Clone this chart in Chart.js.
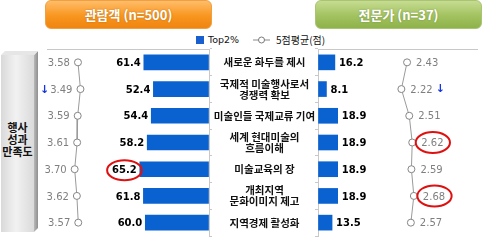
<!DOCTYPE html>
<html><head><meta charset="utf-8">
<script src="https://cdn.jsdelivr.net/npm/chart.js@4"></script>
<style>
html,body{margin:0;padding:0;background:#fff;}
#wrap{position:relative;width:500px;height:241px;overflow:hidden;font-family:"Noto Sans CJK KR","Noto Sans",sans-serif;}
.hdr{position:absolute;top:0;height:27px;border-radius:6px;color:#fff;font-weight:bold;font-size:13px;text-align:center;line-height:27px;text-shadow:0 0 2px rgba(0,0,0,0.25);}
#hL{left:45px;width:165px;background:linear-gradient(#ffbd6a,#f8961f 55%,#ef8510);border:1px solid #f0a040;}
#hR{left:315px;width:165px;background:linear-gradient(#c6dc92,#a2c25f 55%,#8eb24a);border:1px solid #a9c573;}
.leg{position:absolute;font-size:10px;color:#111;line-height:12px;}
canvas{position:absolute;}
#box{position:absolute;left:0;top:0;}
#boxtxt{position:absolute;left:1px;width:33px;top:121px;text-align:center;font-weight:bold;font-size:11px;line-height:12px;color:#111;}
</style></head>
<body>
<div id="wrap">
  <div class="hdr" id="hL">관람객 (n=500)</div>
  <div class="hdr" id="hR">전문가 (n=37)</div>
  <div style="position:absolute;left:196px;top:36px;width:8px;height:8px;background:#1a5fd0;"></div>
  <div class="leg" style="left:208px;top:34px;font-family:'DejaVu Sans';font-size:9.5px;">Top2%</div>
  <svg style="position:absolute;left:250px;top:32px" width="26" height="16"><line x1="3" y1="8" x2="20" y2="8" stroke="#8a8a8a" stroke-width="1"/><circle cx="11.5" cy="8" r="3" fill="#fff" stroke="#7a7a7a" stroke-width="1"/></svg>
  <div class="leg" style="left:276px;top:34px;">5점평균(점)</div>
  <svg id="box" width="40" height="241">
    <defs>
      <linearGradient id="gf" x1="0" x2="1" y1="0" y2="0"><stop offset="0" stop-color="#d9d9d9"/><stop offset="0.45" stop-color="#f2f2f2"/><stop offset="1" stop-color="#dadada"/></linearGradient>
      <linearGradient id="gs" x1="0" x2="1" y1="0" y2="0"><stop offset="0" stop-color="#b8b8b8"/><stop offset="1" stop-color="#8f8f8f"/></linearGradient>
    </defs>
    <polygon points="1,55 34,55 34,232 1,232" fill="url(#gf)"/>
    <polygon points="34,55 38,51 38,228 34,232" fill="url(#gs)"/>
    <polygon points="1,55 5,51 38,51 34,55" fill="#e6e6e6"/>
  </svg>
  <div id="boxtxt">행사<br>성과<br>만족도</div>
  <canvas id="cL" width="174" height="197" style="left:40px;top:44px;width:174px;height:197px;"></canvas>
  <canvas id="cR" width="271" height="197" style="left:211px;top:44px;width:271px;height:197px;"></canvas>
</div>
<script>
// ---- data ----
const categories = [
  ["새로운 화두를 제시"],
  ["국제적 미술행사로서", "경쟁력 확보"],
  ["미술인들 국제교류 기여"],
  ["세계 현대미술의", "흐름이해"],
  ["미술교육의 장"],
  ["개최지역", "문화이미지 제고"],
  ["지역경제 활성화"]
];
const visitorTop2 = [61.4, 52.4, 54.4, 58.2, 65.2, 61.8, 60.0];
const visitorAvg  = [3.58, 3.49, 3.59, 3.61, 3.70, 3.62, 3.57];
const expertTop2  = [16.2, 8.1, 18.9, 18.9, 18.9, 18.9, 13.5];
const expertAvg   = [2.43, 2.22, 2.51, 2.62, 2.59, 2.68, 2.57];
const visitorCircledBars = [4];
const expertCircledAvgs  = [3, 5];
const visitorDownAvgs    = [1];
const expertDownAvgs     = [1];

const catNames = categories.map(c => c.join(' '));
const BLUE = '#0a62d0';
const GRID = '#c8c8c8';

function ellipse(ctx, cx, cy, rx, ry){
  ctx.save();
  ctx.beginPath();
  ctx.ellipse(cx, cy, rx, ry, 0, 0, Math.PI*2);
  ctx.strokeStyle = '#e01010';
  ctx.lineWidth = 2;
  ctx.stroke();
  ctx.restore();
}

function makePlugin(side){
  return {
    id: 'vals' + side,
    afterDatasetsDraw(chart){
      const ctx = chart.ctx;
      const lineMeta = chart.getDatasetMeta(0);
      const barMeta = chart.getDatasetMeta(1);
      const lineData = chart.data.datasets[0].data;
      const barData = chart.data.datasets[1].data;
      ctx.save();
      ctx.textBaseline = 'middle';
      // bar values
      ctx.font = 'bold 10px "DejaVu Sans"';
      ctx.fillStyle = '#000';
      barMeta.data.forEach((el, i) => {
        const txt = barData[i].toFixed(1);
        const w = ctx.measureText(txt).width;
        let x0;
        if (side === 'L') { ctx.textAlign = 'right'; ctx.fillText(txt, el.x - 3, el.y + 1); x0 = el.x - 3 - w; }
        else { ctx.textAlign = 'left'; ctx.fillText(txt, el.x + 4, el.y + 1); x0 = el.x + 4; }
        if (side === 'L' && visitorCircledBars.includes(i)) ellipse(ctx, x0 + w/2, el.y + 1, w/2 + 5, 10);
      });
      // average values
      ctx.font = '10px "DejaVu Sans"';
      lineMeta.data.forEach((pt, i) => {
        const txt = lineData[i].toFixed(2);
        const w = ctx.measureText(txt).width;
        ctx.fillStyle = '#7f7f7f';
        let x0;
        if (side === 'L') { ctx.textAlign = 'right'; ctx.fillText(txt, pt.x - 8, pt.y + 1); x0 = pt.x - 8 - w; }
        else { ctx.textAlign = 'left'; ctx.fillText(txt, pt.x + 9, pt.y + 1); x0 = pt.x + 9; }
        const down = side === 'L' ? visitorDownAvgs : expertDownAvgs;
        if (down.includes(i)) {
          ctx.save();
          ctx.fillStyle = '#1535e0';
          ctx.font = 'bold 11px "DejaVu Sans"';
          if (side === 'L') { ctx.textAlign = 'right'; ctx.fillText('↓', x0 - 1, pt.y + 1); }
          else { ctx.textAlign = 'left'; ctx.fillText('↓', x0 + w + 3, pt.y); }
          ctx.restore();
        }
        if (side === 'R' && expertCircledAvgs.includes(i)) ellipse(ctx, x0 + w/2 + 0.5, pt.y, w/2 + 6, 10.5);
      });
      // category labels (right chart draws them in its left margin)
      if (side === 'R') {
        const yScale = chart.scales.y;
        ctx.font = 'bold 10.5px "Noto Sans CJK KR"';
        ctx.fillStyle = '#111';
        ctx.textAlign = 'center';
        categories.forEach((lines, i) => {
          const yc = yScale.getPixelForValue(i);
          const lh = 11;
          lines.forEach((ln, k) => {
            ctx.fillText(ln, 53.5, yc + (k - (lines.length - 1)/2) * lh);
          });
        });
      }
      ctx.restore();
    }
  };
}

function build(id, side, top2, avg){
  const isL = side === 'L';
  return new Chart(document.getElementById(id), {
    data: {
      labels: catNames,
      datasets: [
        { type: 'line', data: avg, xAxisID: 'xa', yAxisID: 'y', borderColor: '#9a9a9a', borderWidth: 1,
          pointRadius: 3.5, pointBackgroundColor: '#fff', pointBorderColor: '#858585', pointBorderWidth: 1,
          tension: 0, order: 0 },
        { type: 'bar', data: top2, xAxisID: 'xb', yAxisID: 'y', backgroundColor: BLUE, barThickness: 15, order: 1 }
      ]
    },
    options: {
      indexAxis: 'y', responsive: false, animation: false, devicePixelRatio: 1,
      layout: { padding: isL ? { left: 7, top: 5, right: 0, bottom: 3 } : { left: 104, top: 5, right: 0, bottom: 3 } },
      plugins: { legend: { display: false }, tooltip: { enabled: false } },
      scales: {
        y: { type: 'category', position: isL ? 'right' : 'left', offset: true,
             ticks: { display: false },
             grid: { drawOnChartArea: false, tickLength: 3, color: GRID, offset: true },
             border: { display: true, color: GRID } },
        xb: { type: 'linear', position: 'top', reverse: isL, min: 0, max: 152.6,
              ticks: { display: false }, grid: { drawOnChartArea: false, drawTicks: false },
              border: { display: true, color: GRID } },
        xa: { type: 'linear', position: 'top', display: false, reverse: isL,
              min: isL ? -1.157 : -0.851, max: isL ? 4.70 : 5.006 }
      }
    },
    plugins: [makePlugin(side)]
  });
}

build('cL', 'L', visitorTop2, visitorAvg);
build('cR', 'R', expertTop2, expertAvg);
</script>
</body></html>
